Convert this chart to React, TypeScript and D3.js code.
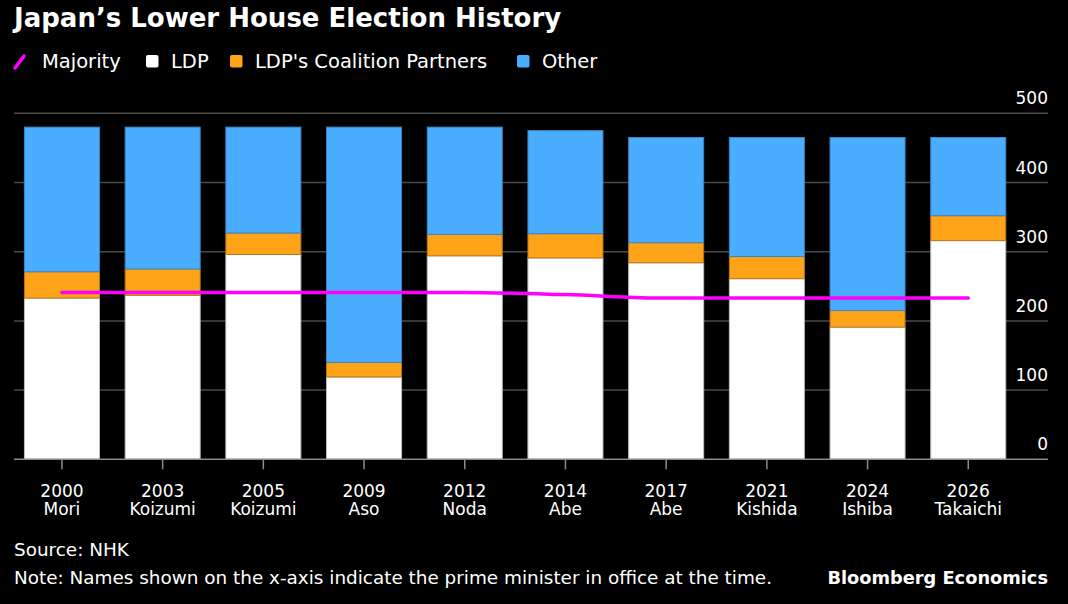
import * as d3 from "d3";
import { useEffect, useRef } from "react";

// election years and the prime minister at the time
const years = ["2000", "2003", "2005", "2009", "2012", "2014", "2017", "2021", "2024", "2026"];
const primeMinisters = ["Mori", "Koizumi", "Koizumi", "Aso", "Noda", "Abe", "Abe", "Kishida", "Ishiba", "Takaichi"];

// seats won
const ldp = [233, 237, 296, 119, 294, 291, 284, 261, 191, 316];
const partners = [38, 38, 31, 21, 31, 35, 29, 32, 24, 36];
const other = [209, 205, 153, 340, 155, 149, 152, 172, 250, 113];

// seats needed for a majority
const majority = [241, 241, 241, 241, 241, 238, 233, 233, 233, 233];

const yTicks = [0, 100, 200, 300, 400, 500];

const W = 1068;
const H = 604;
const FONT = "'DejaVu Sans', Verdana, sans-serif";

const C_LDP = "#ffffff";
const C_PARTNER = "#ffa319";
const C_OTHER = "#4aadff";
const C_MAJ = "#ff00ff";

export default function App() {
    const ref = useRef<SVGSVGElement | null>(null);

    useEffect(() => {
        if (!ref.current) return;
        const svg = d3.select(ref.current);
        svg.selectAll("*").remove();

        const left = 14;
        const right = 1048;
        const top = 113.3;
        const bottom = 459.3;

        const x = d3.scaleBand<string>()
            .domain(years)
            .range([11.6, 1018.6])
            .paddingInner(0.255)
            .paddingOuter(0.1275);

        const y = d3.scaleLinear().domain([0, 500]).range([bottom, top]);

        // background
        svg.append("rect").attr("width", W).attr("height", H).attr("fill", "#000");

        // title
        svg.append("text")
            .attr("x", 14).attr("y", 27)
            .attr("fill", "#fff")
            .attr("font-family", FONT)
            .attr("font-weight", "bold")
            .attr("font-size", 26)
            .text("Japan\u2019s Lower House Election History");

        // legend
        const legend = svg.append("g").attr("font-family", FONT).attr("font-size", 19.5).attr("fill", "#fff");
        legend.append("line")
            .attr("x1", 15).attr("y1", 68).attr("x2", 24).attr("y2", 56)
            .attr("stroke", C_MAJ).attr("stroke-width", 3.5).attr("stroke-linecap", "round");
        legend.append("text").attr("x", 42).attr("y", 68).text("Majority");
        const swatches: [number, string, string][] = [
            [146, C_LDP, "LDP"],
            [230, C_PARTNER, "LDP's Coalition Partners"],
            [517, C_OTHER, "Other"],
        ];
        swatches.forEach(([sx, col, label]) => {
            legend.append("rect")
                .attr("x", sx).attr("y", 55).attr("width", 12.5).attr("height", 12.5)
                .attr("rx", 2).attr("fill", col);
            legend.append("text").attr("x", sx + 25).attr("y", 68).text(label);
        });

        // gridlines
        const grid = svg.append("g");
        yTicks.filter(t => t > 0).forEach(t => {
            grid.append("line")
                .attr("x1", left).attr("x2", right)
                .attr("y1", y(t)).attr("y2", y(t))
                .attr("stroke", "#4a4a4a").attr("stroke-width", 1.5);
        });

        // stacked bars
        const rows = years.map((yr, i) => ({ year: yr, ldp: ldp[i], partners: partners[i], other: other[i] }));
        const keys = ["ldp", "partners", "other"];
        const colors: Record<string, string> = { ldp: C_LDP, partners: C_PARTNER, other: C_OTHER };
        const strokes: Record<string, string> = { ldp: "#bdbdbd", partners: "#b8771a", other: "#3a86c4" };
        const series = d3.stack<any>().keys(keys)(rows);

        svg.append("g")
            .selectAll("g")
            .data(series)
            .join("g")
            .attr("fill", d => colors[d.key])
            .attr("stroke", d => strokes[d.key])
            .attr("stroke-width", 1)
            .selectAll("rect")
            .data(d => d)
            .join("rect")
            .attr("x", d => x(d.data.year)!)
            .attr("width", x.bandwidth())
            .attr("y", d => y(d[1]))
            .attr("height", d => y(d[0]) - y(d[1]));

        // majority line
        const line = d3.line<number>()
            .x((_, i) => x(years[i])! + x.bandwidth() / 2)
            .y(d => y(d))
            .curve(d3.curveMonotoneX);
        svg.append("path")
            .attr("d", line(majority)!)
            .attr("fill", "none")
            .attr("stroke", C_MAJ)
            .attr("stroke-width", 3.5)
            .attr("stroke-linecap", "round");

        // x axis
        const xa = svg.append("g");
        xa.append("line")
            .attr("x1", left).attr("x2", right)
            .attr("y1", bottom).attr("y2", bottom)
            .attr("stroke", "#8c8c8c").attr("stroke-width", 1.5);
        years.forEach((yr, i) => {
            const cx = x(yr)! + x.bandwidth() / 2;
            xa.append("line")
                .attr("x1", cx).attr("x2", cx)
                .attr("y1", bottom).attr("y2", bottom + 10)
                .attr("stroke", "#8c8c8c").attr("stroke-width", 1.5);
            xa.append("text")
                .attr("x", cx).attr("y", 497)
                .attr("text-anchor", "middle")
                .attr("font-family", FONT).attr("font-size", 17)
                .attr("fill", "#fff")
                .text(yr);
            xa.append("text")
                .attr("x", cx).attr("y", 515)
                .attr("text-anchor", "middle")
                .attr("font-family", FONT).attr("font-size", 17)
                .attr("fill", "#fff")
                .text(primeMinisters[i]);
        });

        // y axis labels (right side, above gridlines)
        svg.append("g")
            .selectAll("text")
            .data(yTicks)
            .join("text")
            .attr("x", right)
            .attr("y", d => y(d) - 9)
            .attr("text-anchor", "end")
            .attr("font-family", FONT).attr("font-size", 17)
            .attr("fill", "#fff")
            .text(d => d);

        // footer
        const foot = svg.append("g").attr("font-family", FONT).attr("font-size", 18.4).attr("fill", "#fff");
        foot.append("text").attr("x", 14).attr("y", 556).text("Source: NHK");
        foot.append("text").attr("x", 14).attr("y", 584)
            .text("Note: Names shown on the x-axis indicate the prime minister in office at the time.");
        svg.append("text")
            .attr("x", right).attr("y", 584)
            .attr("text-anchor", "end")
            .attr("font-family", FONT).attr("font-weight", "bold").attr("font-size", 17.8)
            .attr("fill", "#fff")
            .text("Bloomberg Economics");
    }, []);

    return (
        <svg
            ref={ref}
            width={W}
            height={H}
            style={{ position: "absolute", left: 0, top: 0, display: "block" }}
        />
    );
}
